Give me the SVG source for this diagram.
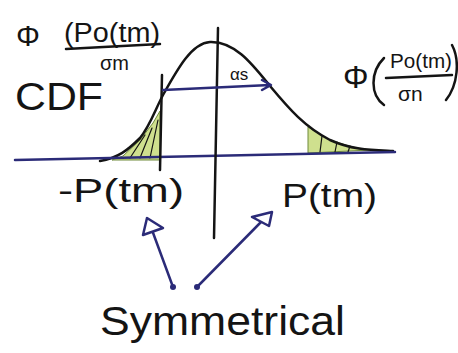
<svg xmlns="http://www.w3.org/2000/svg" width="458" height="353" viewBox="0 0 458 353">
<style>
.ink{fill:none;stroke:#141414;stroke-width:2.5;stroke-linecap:round;stroke-linejoin:round}
.blue{fill:none;stroke:#2b2b78;stroke-width:2.5;stroke-linecap:round;stroke-linejoin:round}
.hatch{fill:#cfe08e;stroke:#6f8a3a;stroke-width:1}
.t{font-family:"Liberation Sans","DejaVu Sans",sans-serif;fill:#141414}
</style>
<rect width="458" height="353" fill="#ffffff"/>
<g id="tails">
<path class="hatch" d="M112,160 L123,156 L140,140 L153,123 L160,111 L160,160 Z"/>
<path class="hatch" d="M308,127 L330,140 L352,147 L370,150 L308,153 Z"/>
<path class="ink" style="stroke-width:1.2" d="M130,158 L145,135 M140,158 L152,128 M150,158 L158,120 M320,152 L322,136 M335,152 L337,142 M348,152 L350,146"/>
</g>
<g id="curve">
<path class="ink" d="M100,161 C118,158 128,150 140,138 C150,126 155,110 163,95 C178,68 192,43 210,42 C235,41 253,65 270,86 C290,110 305,127 330,140 C352,150 372,150 393,151"/>
</g>
<g id="axes">
<path class="blue" d="M15,160 L395,152"/>
<path class="ink" d="M218,28 L214,238"/>
<path class="ink" d="M162,75 L160,170"/>
</g>
<g id="as-label">
<path class="blue" d="M163,90 L270,85 M262,80 L271,85 L262,90"/>
<text class="t" x="230" y="80" font-size="17">αs</text>
</g>
<g id="phi-left">
<text class="t" x="16" y="46" font-size="30">Φ</text>
<text class="t" x="64" y="42" font-size="27" textLength="96" lengthAdjust="spacingAndGlyphs">(Po(tm)</text>
<path class="ink" d="M66,49 L160,44"/>
<text class="t" x="100" y="70" font-size="20">σm</text>
</g>
<g id="cdf">
<text class="t" x="15" y="110" font-size="38" textLength="88" lengthAdjust="spacingAndGlyphs">CDF</text>
</g>
<g id="phi-right">
<text class="t" x="343" y="88" font-size="32">Φ</text>
<path class="ink" d="M384,58 C370,72 370,95 384,105"/>
<text class="t" x="390" y="68" font-size="20" textLength="62" lengthAdjust="spacingAndGlyphs">Po(tm)</text>
<path class="ink" d="M386,78 L452,75"/>
<text class="t" x="398" y="101" font-size="21">σn</text>
<path class="ink" d="M452,45 C460,60 458,85 446,100"/>
</g>
<g id="neg-p">
<text class="t" x="58" y="202" font-size="34" textLength="126" lengthAdjust="spacingAndGlyphs">-P(tm)</text>
</g>
<g id="pos-p">
<text class="t" x="282" y="207" font-size="34" textLength="95" lengthAdjust="spacingAndGlyphs">P(tm)</text>
</g>
<g id="connectors">
<path class="blue" d="M173,287 L152,230"/>
<path class="blue" style="fill:#ffffff" d="M147,218 L143,235 L163,228 Z"/>
<circle cx="173" cy="287" r="3" fill="#2b2b78"/>
<path class="blue" d="M197,287 L263,220"/>
<path class="blue" style="fill:#ffffff" d="M272,212 L252,217 L269,226 Z"/>
<circle cx="197" cy="287" r="3" fill="#2b2b78"/>
</g>
<g id="symmetrical">
<text class="t" x="100" y="335" font-size="40" textLength="245" lengthAdjust="spacingAndGlyphs">Symmetrical</text>
</g>
</svg>
